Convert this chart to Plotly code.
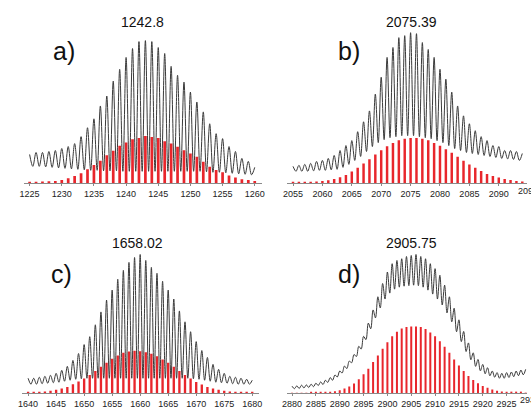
import numpy as np
import plotly.graph_objects as go

# ---------------- data ----------------
titles = ["1242.8", "2075.39", "1658.02", "2905.75"]
letters = ["a)", "b)", "c)", "d)"]

# panel a
a_start = 1225
a_peaks = [29, 31, 31, 32, 33, 35, 37, 40, 47, 56, 65, 78, 88, 103, 115, 127, 136, 143,
           144, 143, 137, 131, 118, 109, 102, 92, 82, 72, 60, 50, 45, 37, 32, 25, 22, 16]
a_valleys = [17, 17, 16.5, 16, 15.5, 15, 14.5, 14, 13.5, 13, 13, 12.5, 12.5, 12.5, 12, 12, 12,
             12, 12, 12, 12, 12, 12, 12, 12, 12, 12, 11.5, 11, 11, 10.5, 10, 9.5, 9, 8.5]
a_bars = [1, 1.3, 1.7, 2, 2.3, 3.3, 5, 7.3, 10, 14, 18.3, 22.7, 28.3, 32.7, 37.7, 41, 44.3,
          45.7, 47.7, 46.7, 45.7, 42.3, 40, 36.7, 33.3, 30, 26.7, 21.7, 16.7, 13.3, 11, 7.7,
          5.7, 4, 3.3, 2.3]

# panel b
b_start = 2055
b_peaks = [17, 18, 19, 20, 22, 23, 25, 28, 33, 38, 43, 52, 62, 73, 90, 107, 127, 137, 147,
           149, 152, 151, 142, 135, 127, 115, 105, 92, 78, 68, 60, 53, 47, 43, 38, 37, 33, 33,
           32, 30]
b_valleys = [12, 12, 12, 12.5, 13, 13, 13.5, 14, 16, 19, 23, 27, 32, 37, 41, 44, 46, 47, 48,
             48, 48, 47, 46, 45, 43, 41, 38, 35, 33, 31, 30, 29, 28, 27, 26, 25, 24.5, 24, 23]
b_bars = [0.7, 0.7, 1, 1.3, 1.7, 2.3, 3, 4.3, 6, 8.3, 11.7, 15.7, 20, 24.3, 29, 33.3, 37.3,
          40.7, 43.3, 45, 45.7, 45.7, 45, 43.3, 40.7, 37.7, 34.3, 30.7, 26.7, 22.7, 19, 15.7,
          12.3, 9.3, 7.3, 5.7, 4.3, 3.3, 2.3, 1.7]

# panel c
c_start = 1640
c_peaks = [15, 15, 16, 17, 18, 20, 23, 27, 33, 40, 49, 57, 69, 82, 94, 104, 115, 124, 132,
           137, 140, 134, 127, 121, 113, 104, 95, 83, 72, 62, 52, 43, 36, 29, 24, 20, 17, 16,
           15, 14, 13]
c_valleys = [9, 9, 9.5, 10, 10.5, 11, 12, 13, 14, 14.5, 15, 15, 15, 15, 15, 15, 15, 15, 15,
             15, 15, 15, 15, 15, 15, 15, 15, 15, 15, 14.5, 14, 13, 12, 11, 10.5, 10, 9.5, 9,
             9, 9]
c_bars = [0.7, 1, 1.3, 1.7, 2.3, 3.3, 4.7, 6.3, 9, 11.7, 14.7, 18.3, 22.3, 26.7, 30.7, 34.7,
          38, 40.7, 42, 42.7, 42.3, 41.3, 39.7, 37.3, 34, 30.7, 26.7, 22.3, 18.3, 14.7, 11.3,
          8.7, 6.3, 4.7, 3.3, 2.3, 1.7, 1.3, 1, 0.7, 0.7]

# panel d
d_start = 2880
d_peaks = [7, 7.3, 8, 8.3, 9, 10, 11.3, 13, 15.7, 18.3, 22.3, 27.3, 32.3, 39, 47.3, 57.3,
           70.7, 84, 97.3, 110.7, 122.3, 130.7, 134, 135.7, 138, 139, 140, 138, 135.7, 130.7,
           125.7, 119, 109, 97.3, 85.7, 74, 62.3, 50.7, 40.7, 34, 29, 25.7, 22.3, 20.7, 20,
           20.7, 21.3, 22.3, 23.3, 24]
d_valleys = [4.5, 4.7, 5.2, 5.7, 6.5, 7.7, 8.7, 10.8, 13, 16.3, 20.3, 24.8, 30.7, 37, 44.5,
             54, 65, 76, 86, 95, 101, 105, 107, 108, 108.5, 109, 108.5, 107, 104, 100, 95,
             89, 81, 72, 62, 52, 42, 33.7, 27, 22.5, 19.5, 17.5, 16, 15, 15, 15.8, 16.6, 17.6,
             18.5]
d_bars = [0.3, 0.3, 0.3, 0.3, 0.5, 0.5, 0.7, 1, 1.3, 2, 3, 4.7, 6.7, 9.7, 14, 19, 24.7, 31.3,
          38, 44.7, 51.3, 57.3, 62, 65.3, 66.7, 67.3, 67.3, 66.7, 64.7, 61.3, 57.3, 52.3, 46.7,
          40.7, 34, 28, 22.3, 17.3, 13.3, 10, 7.3, 5.3, 3.7, 2.3, 1.7, 1.3, 1, 0.7, 0.5, 0.4]

panels = [
    (a_start, a_peaks, a_valleys, a_bars),
    (b_start, b_peaks, b_valleys, b_bars),
    (c_start, c_peaks, c_valleys, c_bars),
    (d_start, d_peaks, d_valleys, d_bars),
]

# ---------------- layout geometry (page pixels) ----------------
W, H = 531, 409
x_ranges = [[1224.2, 1261.2], [2054.0, 2094.8], [1638.86, 1681.14], [2878.97, 2929.28]]
x_domains = [[19.8 / W, 261.9 / W], [287 / W, 1.0], [17 / W, 258 / W], [287 / W, 1.0]]
y_domains = [[(H - 185) / H, (H - 30) / H], [(H - 185) / H, (H - 30) / H],
             [(H - 397) / H, (H - 242) / H], [(H - 397) / H, (H - 242) / H]]
title_pos = [(140, 22), (413, 22), (135, 245), (413, 245)]
letter_pos = [(60, 52), (350, 52), (57, 277), (350, 277)]
cut_labels = [("2095", 532, 193), ("2930", 534.5, 404)]

fig = go.Figure()
FONT = "Arial, Liberation Sans, sans-serif"

for i, (start, peaks, valleys, bars) in enumerate(panels):
    n = i + 1
    xs = "x" if n == 1 else f"x{n}"
    ys = "y" if n == 1 else f"y{n}"
    masses = np.arange(start, start + len(peaks))
    vmasses = masses[:len(valleys)] + 0.5
    lx, ly = [], []
    for k in range(len(peaks)):
        lx.append(masses[k]); ly.append(peaks[k])
        if k < len(valleys):
            lx.append(vmasses[k]); ly.append(valleys[k])
    fig.add_trace(go.Scatter(x=lx, y=ly, mode="lines", xaxis=xs, yaxis=ys,
                             line=dict(color="#3a3a3a", width=1, shape="spline", smoothing=1.0),
                             showlegend=False, hoverinfo="skip"))
    bm = np.arange(start, start + len(bars))
    fig.add_trace(go.Bar(x=bm, y=bars, xaxis=xs, yaxis=ys, width=0.42,
                         marker=dict(color="#e8262c", line=dict(width=0)),
                         showlegend=False, hoverinfo="skip"))

layout = dict(width=W, height=H, margin=dict(l=0, r=0, t=0, b=0),
              paper_bgcolor="white", plot_bgcolor="white", barmode="overlay",
              annotations=[])
for i in range(4):
    n = i + 1
    xk = "xaxis" if n == 1 else f"xaxis{n}"
    yk = "yaxis" if n == 1 else f"yaxis{n}"
    ya = "y" if n == 1 else f"y{n}"
    xa = "x" if n == 1 else f"x{n}"
    layout[xk] = dict(domain=x_domains[i], range=x_ranges[i], anchor=ya,
                      showline=True, linecolor="#8a8a8a", linewidth=1,
                      ticks="outside", ticklen=2, tickcolor="#8a8a8a", tickwidth=1,
                      dtick=5, tick0=0, showgrid=False, zeroline=False,
                      tickfont=dict(family=FONT, size=9, color="#222"))
    layout[yk] = dict(domain=y_domains[i], range=[0, 155], anchor=xa, visible=False,
                      showgrid=False, zeroline=False)
    tx, ty = title_pos[i]
    layout["annotations"].append(dict(text=titles[i], x=tx / W, y=(H - ty) / H,
                                      xref="paper", yref="paper", showarrow=False,
                                      xanchor="center", yanchor="middle",
                                      font=dict(family=FONT, size=14, color="#111")))
    lxp, lyp = letter_pos[i]
    layout["annotations"].append(dict(text=letters[i], x=lxp / W, y=(H - lyp) / H,
                                      xref="paper", yref="paper", showarrow=False,
                                      xanchor="center", yanchor="middle",
                                      font=dict(family=FONT, size=25, color="#111")))

# partially visible tick labels cut by the right edge
for txt, px, py in cut_labels:
    layout["annotations"].append(dict(text=txt, x=px / W, y=(H - py) / H, xref="paper",
                                      yref="paper", showarrow=False,
                                      xanchor="center", yanchor="middle",
                                      font=dict(family=FONT, size=9, color="#222")))

fig.update_layout(**layout)
fig.write_html("out.html", config={"displayModeBar": False},
               post_script="document.body.style.margin='0';document.body.style.overflow='hidden';")
